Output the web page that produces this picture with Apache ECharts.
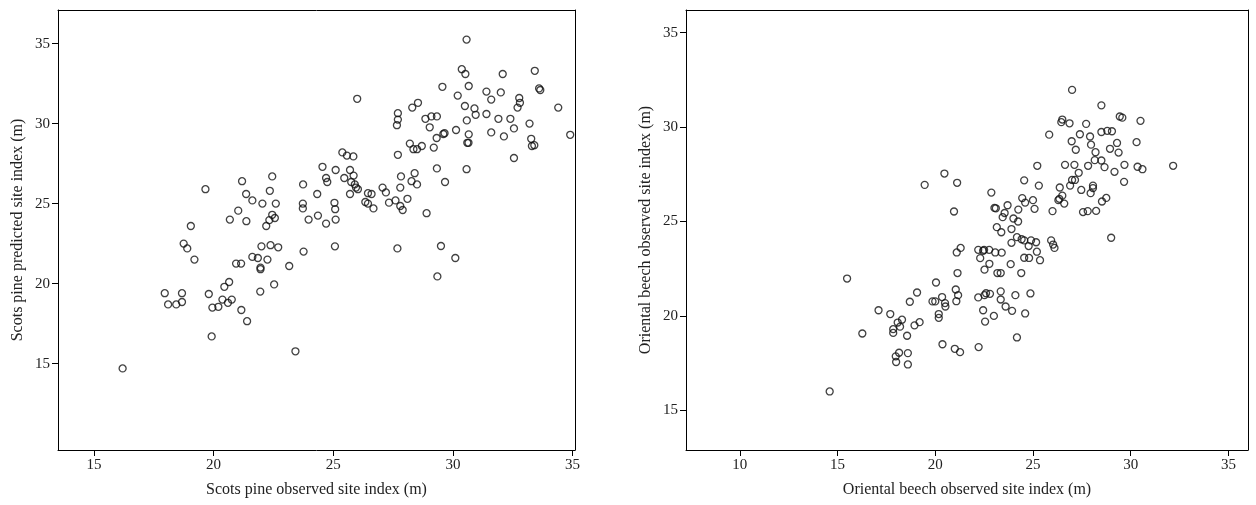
<!DOCTYPE html>
<html>
<head>
<meta charset="utf-8">
<script src="https://cdn.jsdelivr.net/npm/echarts@6/dist/echarts.min.js"></script>
<style>
html,body{margin:0;padding:0;background:#fff;}
#main{width:1256px;height:505px;}
</style>
</head>
<body>
<div id="main"></div>
<script>
// Scots pine: [observed, predicted]
var pinePoints = [
[16.2,14.7],[19.66,25.9],[19.05,23.6],[18.75,22.5],[18.9,22.2],[19.2,21.5],[17.96,19.4],[18.1,18.7],
[18.44,18.7],[18.68,19.4],[18.68,18.85],[19.92,16.7],[19.8,19.35],[19.95,18.5],[20.2,18.55],[20.37,19.0],
[20.6,18.8],[20.76,19.0],[20.45,19.8],[20.65,20.1],[21.16,18.35],[21.4,17.65],[20.94,21.25],[21.15,21.25],
[21.62,21.67],[21.85,21.6],[21.96,21.0],[21.96,20.9],[22.25,21.5],[21.95,19.5],[22.53,19.95],[23.16,21.1],
[22.0,22.33],[22.38,22.4],[22.7,22.27],[23.76,22.0],[23.42,15.77],[20.68,24.0],[21.03,24.56],[21.37,23.9],
[21.19,26.4],[21.36,25.6],[21.62,25.2],[22.04,25.0],[22.45,26.7],[22.35,25.8],[22.6,25.0],[22.45,24.3],
[22.33,23.97],[22.56,24.1],[22.2,23.6],[23.74,26.2],[23.73,25.0],[23.73,24.7],[23.97,24.0],[24.33,25.6],
[24.36,24.25],[24.55,27.3],[24.7,26.6],[24.75,26.35],[25.1,27.1],[24.7,23.75],[25.07,22.33],[25.05,25.05],
[25.08,24.65],[25.1,24.0],[25.38,28.2],[25.57,28.0],[25.84,27.95],[25.7,27.1],[25.85,26.75],[25.46,26.6],
[25.75,26.35],[25.9,26.2],[25.95,26.0],[26.03,25.9],[25.7,25.6],[26.45,25.65],[26.6,25.6],[26.34,25.1],
[26.45,25.0],[26.68,24.7],[27.06,26.0],[27.2,25.7],[27.33,25.06],[27.6,25.2],[27.8,26.0],[28.1,25.3],
[27.8,24.85],[27.9,24.6],[28.9,24.4],[27.68,22.2],[29.5,22.35],[30.1,21.6],[29.35,20.45],[27.83,26.7],
[28.4,26.9],[28.27,26.4],[28.5,26.2],[29.67,26.35],[29.33,27.2],[30.57,27.15],[27.7,28.05],[28.2,28.75],
[28.35,28.4],[28.5,28.4],[28.7,28.6],[29.2,28.5],[30.6,28.8],[30.57,35.25],[30.37,33.4],[30.52,33.1],
[32.08,33.1],[33.42,33.3],[33.6,32.2],[33.65,32.1],[34.4,31.0],[26.0,31.55],[29.56,32.3],[30.66,32.35],
[31.4,32.0],[32.0,31.95],[31.6,31.5],[30.2,31.75],[30.5,31.1],[30.9,30.95],[30.95,30.55],[31.4,30.6],
[31.9,30.3],[32.4,30.3],[32.77,31.6],[32.8,31.3],[32.7,31.0],[32.55,29.7],[33.2,30.0],[33.27,29.05],
[33.3,28.6],[33.4,28.65],[32.55,27.85],[30.58,30.2],[30.13,29.6],[30.66,29.33],[30.65,28.8],[31.6,29.45],
[32.13,29.2],[27.7,30.65],[27.7,30.25],[27.66,29.9],[28.3,31.0],[28.54,31.3],[28.85,30.3],[29.1,30.45],
[29.33,30.45],[29.03,29.77],[29.32,29.1],[29.6,29.35],[29.65,29.4],[34.9,29.3]
];
// Oriental beech: [observed, observed (y axis)]
var beechPoints = [
[14.6,16.0],[15.49,21.98],[16.27,19.07],[17.1,20.3],[17.7,20.1],[17.85,19.3],[17.85,19.1],[18.08,19.65],
[18.3,19.8],[18.2,19.43],[18.56,18.95],[18.15,18.05],[17.98,17.86],[18.0,17.56],[18.6,18.03],[18.6,17.43],
[18.7,20.75],[19.07,21.24],[18.94,19.5],[19.2,19.67],[20.04,21.77],[19.86,20.77],[20.0,20.77],[20.35,21.0],
[20.5,20.68],[20.52,20.5],[20.18,20.1],[20.18,19.9],[20.37,18.5],[21.0,18.26],[21.27,18.08],[21.14,22.27],
[21.05,21.4],[21.17,21.1],[21.08,20.78],[21.1,23.36],[21.3,23.6],[22.2,23.5],[22.45,23.45],[22.5,23.5],
[22.76,23.5],[23.07,23.36],[23.4,23.35],[22.3,23.06],[22.77,22.76],[22.52,22.45],[23.18,22.27],[23.35,22.27],
[23.86,22.74],[24.4,22.27],[22.2,20.98],[22.52,21.1],[22.6,21.2],[22.8,21.17],[23.35,21.3],[23.35,20.87],
[23.6,20.5],[23.93,20.27],[24.1,21.1],[24.87,21.19],[24.6,20.13],[24.18,18.86],[22.45,20.3],[22.55,19.7],
[23.0,20.0],[22.22,18.35],[23.15,24.7],[23.38,24.43],[23.9,24.6],[23.9,23.87],[24.18,24.17],[24.42,24.06],
[24.55,24.0],[24.78,23.7],[24.9,24.0],[25.16,23.9],[25.2,23.4],[25.36,22.95],[24.55,23.08],[24.8,23.07],
[19.46,26.94],[20.47,27.54],[21.12,27.05],[20.96,25.53],
[27.0,31.97],[28.5,31.15],[29.44,30.56],[29.57,30.5],[30.5,30.33],[26.45,30.26],[26.5,30.4],[26.87,30.2],
[27.72,30.17],[25.83,29.6],[27.4,29.62],[27.92,29.5],[28.5,29.74],[28.8,29.8],[29.04,29.78],[26.98,29.25],
[27.19,28.8],[27.97,29.07],[28.2,28.67],[28.94,28.85],[29.3,29.16],[29.38,28.65],[30.3,29.2],[25.22,27.95],
[26.64,28.0],[27.12,28.0],[27.82,27.95],[28.16,28.25],[28.5,28.23],[28.66,27.88],[29.17,27.63],[29.68,28.0],
[30.35,27.9],[30.6,27.77],[32.17,27.95],[29.66,27.1],[27.34,27.58],[27.15,27.2],[27.0,27.2],[26.9,26.9],
[24.55,27.18],[25.3,26.9],[26.37,26.8],[27.47,26.67],[28.07,26.9],[28.07,26.77],[27.95,26.5],[28.75,26.25],
[28.53,26.06],[26.5,26.37],[26.3,26.13],[26.35,26.2],[26.6,25.95],[26.0,25.55],[27.56,25.5],[27.8,25.55],
[28.23,25.56],[29.0,24.14],[22.87,26.53],[24.45,26.24],[24.6,26.0],[25.0,26.13],[25.08,25.67],[24.25,25.63],
[23.7,25.86],[23.03,25.72],[23.1,25.7],[23.55,25.45],[23.45,25.23],[24.0,25.16],[24.24,25.0],[25.93,24.0],
[26.03,23.78],[26.1,23.6]
];
var pineXTicks = [15, 20, 25, 30, 35];
var pineYTicks = [15, 20, 25, 30, 35];
var beechXTicks = [10, 15, 20, 25, 30, 35];
var beechYTicks = [15, 20, 25, 30, 35];

var FONT = 'Liberation Serif';
var lineCol = '#000';

function valueAxis(opt) {
    return {
        type: 'value',
        gridIndex: opt.grid,
        position: opt.position,
        min: opt.min,
        max: opt.max,
        name: opt.name,
        nameLocation: 'middle',
        nameGap: opt.nameGap,
        nameTextStyle: {color: '#222', fontFamily: FONT, fontSize: 16},
        axisLine: {show: true, onZero: false, lineStyle: {color: lineCol, width: 1}},
        axisTick: {show: !!opt.ticks, inside: false, length: 6, customValues: opt.ticks, lineStyle: {color: lineCol}},
        axisLabel: {show: !!opt.ticks, customValues: opt.ticks, color: '#222', fontFamily: FONT, fontSize: 15, margin: 8},
        splitLine: {show: false}
    };
}

var chart = echarts.init(document.getElementById('main'));
chart.setOption({
    backgroundColor: '#fff',
    animation: false,
    grid: [
        {left: 58, right: 681, top: 10, bottom: 55},
        {left: 686, right: 8, top: 10, bottom: 55}
    ],
    xAxis: [
        valueAxis({grid: 0, position: 'bottom', min: 13.5, max: 35.1, ticks: pineXTicks, name: 'Scots pine observed site index (m)', nameGap: 32}),
        valueAxis({grid: 0, position: 'top', min: 13.5, max: 35.1}),
        valueAxis({grid: 1, position: 'bottom', min: 7.25, max: 36, ticks: beechXTicks, name: 'Oriental beech observed site index (m)', nameGap: 32}),
        valueAxis({grid: 1, position: 'top', min: 7.25, max: 36})
    ],
    yAxis: [
        valueAxis({grid: 0, position: 'left', min: 9.6, max: 37.1, ticks: pineYTicks, name: 'Scots pine predicted site index (m)', nameGap: 32}),
        valueAxis({grid: 0, position: 'right', min: 9.6, max: 37.1}),
        valueAxis({grid: 1, position: 'left', min: 12.9, max: 36.2, ticks: beechYTicks, name: 'Oriental beech observed site index (m)', nameGap: 32}),
        valueAxis({grid: 1, position: 'right', min: 12.9, max: 36.2})
    ],
    series: [
        {
            type: 'scatter', xAxisIndex: 0, yAxisIndex: 0, data: pinePoints,
            symbol: 'circle', symbolSize: 7,
            itemStyle: {color: 'rgba(255,255,255,0)', borderColor: '#111', borderWidth: 1.3}
        },
        {
            type: 'scatter', xAxisIndex: 2, yAxisIndex: 2, data: beechPoints,
            symbol: 'circle', symbolSize: 7,
            itemStyle: {color: 'rgba(255,255,255,0)', borderColor: '#111', borderWidth: 1.3}
        }
    ]
});
</script>
</body>
</html>
